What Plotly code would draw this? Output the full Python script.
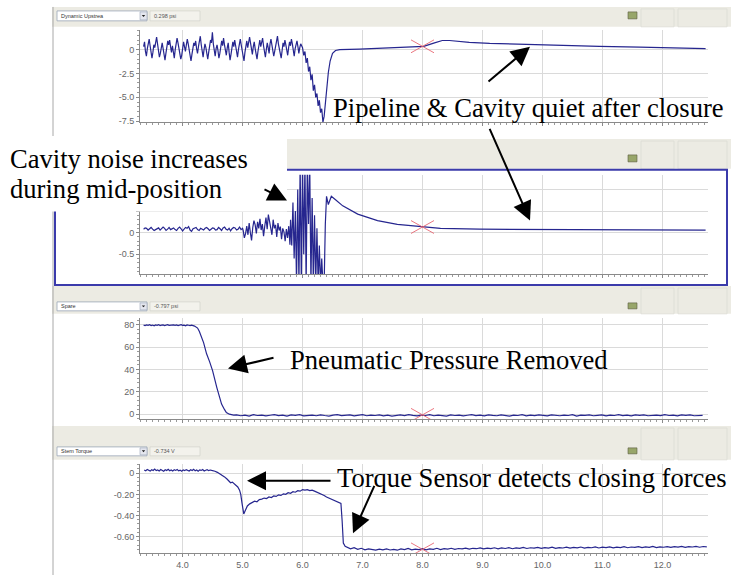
import plotly.graph_objects as go

W, H = 735, 579

# ---------------- data ----------------
x_ticks = [4.0, 5.0, 6.0, 7.0, 8.0, 9.0, 10.0, 11.0, 12.0]
x_tick_labels = ["4.0", "5.0", "6.0", "7.0", "8.0", "9.0", "10.0", "11.0", "12.0"]

# Panel 1 : Dynamic Upstream (psi)
p1_noise_start = 3.35
p1_noise_step = 0.0155
p1_noise = [
    0.3, 0.8, -0.2, -0.7, 0.1, 0.6, 1.1, 0.4, -0.5, -0.9, -0.3, 0.5, 0.2, 0.9, 1.3, 0.6, -0.1, -0.8, -0.4, 0.3,
    0.7, 0.1, -0.6, -1.1, -0.4, 0.2, 0.9, 0.5, 1.0, 0.3, -0.3, 0.4, -0.5, -0.9, 0.0, 0.6, 1.2, 0.7, 0.2, -0.4,
    -1.0, -0.6, 0.1, 0.8, 0.3, -0.2, 0.5, 1.1, 0.6, -0.1, -0.7, -1.2, -0.5, 0.2, 0.7, 0.4, 0.9, 0.1, -0.4, 0.3,
    0.8, 1.4, 0.5, -0.3, -0.8, 0.0, 0.6, 0.2, -0.5, -1.0, -0.3, 0.4, 1.0, 0.7, 1.8, 0.6, -0.2, -0.7, 0.1, 0.5,
    -0.1, -0.9, -0.4, 0.3, 0.9, 0.4, 1.2, 0.5, -0.2, -0.6, 0.2, 0.7, -0.3, -1.1, -0.5, 0.1, 0.8, 0.3, 1.0, 0.4,
    -0.4, -0.8, 0.0, 0.6, 1.1, 0.5, -0.1, -0.7, -1.2, -0.3, 0.4, 0.9, 0.2, 0.6, 1.3, 0.7, -0.2, -0.5, 0.3, 0.8,
    0.1, -0.6, -1.0, -0.2, 0.5, 1.0, 0.3, 0.8, 1.2, 0.4, -0.3, -0.8, 0.0, 0.7, 0.2, -0.4, 0.6, 1.1, 0.5, -0.1,
    -0.7, -0.2, 0.4, 0.9, 1.4, 0.6, 0.0, -0.5, -0.9, -0.1, 0.7, 0.3, 1.0, 0.5, -0.3, -0.6, 0.2, 0.8, 0.4, 1.1,
    0.6, -0.2, -0.7, 0.1, 0.5, 0.9, 0.3, -0.4, 0.2, 0.6]
p1_t = [6.0, 6.02, 6.04, 6.06, 6.08, 6.1, 6.12, 6.14, 6.16, 6.18, 6.2, 6.22, 6.24, 6.26, 6.28, 6.3,
        6.32, 6.34, 6.36, 6.38, 6.4, 6.43, 6.46, 6.5, 6.55, 6.62, 6.95, 7.62, 7.87, 8.02, 8.2, 8.33,
        8.45, 8.78, 9.12, 9.78, 10.28, 10.95, 11.62, 12.28, 12.72]
p1_v = [0.2, -0.6, -0.2, -1.4, -0.9, -2.3, -1.8, -3.2, -2.6, -4.3, -3.7, -5.0, -4.6, -5.9, -5.3, -6.6,
        -6.2, -7.6, -7.0, -5.5, -4.0, -2.4, -1.2, -0.4, -0.1, 0.0, 0.05, 0.2, 0.26, 0.34, 0.7, 0.95,
        0.95, 0.76, 0.65, 0.52, 0.42, 0.34, 0.25, 0.16, 0.1]

# Panel 2 : Cavity (psi)
p2_a_start = 3.35
p2_a_step = 0.025
p2_a = [
    0.08, 0.11, 0.10, 0.06, 0.09, 0.12, 0.08, 0.05, 0.07, 0.10, 0.11, 0.06, 0.09, 0.13, 0.10, 0.05, 0.08, 0.12, 0.07, 0.09,
    0.11, 0.07, 0.05, 0.10, 0.13, 0.09, 0.04, 0.08, 0.12, 0.10, 0.14, 0.06, 0.03, 0.09, 0.11, 0.12, 0.07, 0.05, 0.10, 0.08,
    0.06, 0.10, 0.12, 0.09, 0.05, 0.08, 0.11, 0.10, 0.06, 0.07, 0.12, 0.09, 0.05, 0.11, 0.13, 0.08, 0.06, 0.10, 0.04, 0.09,
    0.12, 0.11, 0.06, 0.08, 0.13, 0.07, 0.10]
p2_b_start = 5.01
p2_b_step = 0.02
p2_b = [0.05, -0.12, -0.02, 0.15, -0.05, 0.22, 0.0, -0.18, 0.12, 0.28, 0.18, -0.02, 0.25, 0.1, 0.32, 0.06, 0.2, -0.08, 0.15, 0.35,
        0.08, 0.42, 0.26, 0.12, -0.05, 0.3, 0.1, 0.18, -0.1, 0.22, 0.05, 0.14, -0.15, 0.1, 0.02, -0.2, 0.08, -0.12, 0.15, -0.28]
p2_t = [5.80, 5.82, 5.84, 5.86, 5.88, 5.90, 5.92, 5.94, 5.96, 5.98, 6.00, 6.02, 6.04, 6.06, 6.08, 6.10,
        6.12, 6.14, 6.16, 6.18, 6.20, 6.22, 6.24, 6.26, 6.28, 6.30, 6.32, 6.34, 6.36, 6.38, 6.40, 6.43,
        6.48, 6.55, 6.67, 6.92, 7.25, 7.58, 7.90, 8.02, 8.30, 8.95, 10.1, 12.72]
p2_v = [0.3, -0.3, 0.7, -0.6, 0.5, -1.2, 1.0, -1.2, 1.6, -1.2, 1.6, -0.5, 1.6, -1.2, 1.6, 0.2,
        1.6, -1.2, 0.8, -1.2, 0.4, -1.2, 0.1, -1.2, -0.3, -1.2, -0.6, -1.2, -1.2, 0.2, 0.84, 0.65,
        0.84, 0.76, 0.62, 0.43, 0.28, 0.19, 0.15, 0.13, 0.10, 0.08, 0.07, 0.06]

# Panel 3 : Spare (psi)
p3_a_start = 3.35
p3_a_step = 0.025
p3_a = [79.6, 79.2, 79.9, 79.4, 80.0, 79.3, 79.7, 79.1, 79.8, 79.5, 80.1, 79.2, 79.6, 79.9, 79.3, 79.7, 80.0,
        79.4, 79.6, 79.2, 79.9, 79.5, 79.8, 79.3, 79.7, 80.0, 79.4, 79.6, 79.1, 79.8, 79.5, 79.2, 79.6]
p3_t = [4.2, 4.25, 4.28, 4.35, 4.4, 4.45, 4.5, 4.57, 4.62, 4.65, 4.7, 4.73, 4.78, 4.85]
p3_v = [78.8, 77.0, 74.0, 64.0, 54.0, 47.0, 39.0, 24.0, 14.0, 9.0, 4.0, 1.5, 0.0, -0.8]
p3_c_start = 4.9
p3_c_step = 0.07
p3_c = [
    -0.6, -1.4, -0.9, -1.7, -0.5, -1.2, -0.8, -1.6, -1.0, -0.4, -1.3, -0.9, -1.8, -0.7, -1.1, -0.5, -1.5, -1.0, -0.8, -1.4,
    -0.6, -1.2, -1.7, -0.9, -0.4, -1.3, -1.0, -0.7, -1.6, -1.1, -0.5, -1.4, -0.8, -1.2, -0.6, -1.5, -0.9, -1.8, -1.0, -0.7,
    -1.3, -0.5, -1.1, -1.6, -0.8, -1.2, -0.4, -1.4, -0.9, -1.0, -1.7, -0.6, -1.2, -0.8, -1.5, -1.0, -0.5, -1.3, -0.9, -1.6,
    -0.7, -1.1, -1.4, -0.6, -1.0, -1.8, -0.8, -1.2, -0.5, -1.5, -0.9, -1.3, -0.7, -1.1, -1.6, -0.6, -1.0, -1.4, -0.8, -1.2,
    -0.5, -1.7, -0.9, -1.1, -0.6, -1.4, -1.0, -0.7, -1.5, -0.8, -1.2, -0.4, -1.3, -0.9, -1.6, -0.7, -1.1, -0.6, -1.4, -1.0,
    -0.8, -1.3, -0.5, -1.2, -0.9, -1.5, -0.7, -1.1, -0.6, -1.4, -0.9, -1.0]

# Panel 4 : Stem Torque (V)
p4_a_start = 3.36
p4_a_step = 0.025
p4_a = [0.03, 0.022, 0.035, 0.025, 0.02, 0.033, 0.026, 0.038, 0.024, 0.03, 0.021, 0.034, 0.027, 0.019, 0.032, 0.025,
        0.036, 0.023, 0.03, 0.02, 0.033, 0.026, 0.035, 0.022, 0.029, 0.018, 0.031, 0.024, 0.034, 0.027, 0.02, 0.032,
        0.025, 0.036, 0.022, 0.03, 0.019, 0.031, 0.026, 0.034, 0.021, 0.028, 0.033, 0.024, 0.03, 0.026]
p4_b_t = [4.5, 4.54, 4.58, 4.62, 4.66, 4.7, 4.74, 4.78, 4.8, 4.83, 4.86, 4.89, 4.92, 4.95, 4.97, 4.99, 5.01, 5.02]
p4_b_v = [0.025, 0.018, 0.008, -0.005, -0.02, -0.035, -0.055, -0.075, -0.09, -0.085, -0.1, -0.11, -0.13, -0.16,
          -0.2, -0.28, -0.35, -0.385]
p4_c_start = 5.04
p4_c_step = 0.04
p4_c = [-0.36, -0.31, -0.29, -0.28, -0.265, -0.27, -0.25, -0.245, -0.235, -0.24, -0.225, -0.23, -0.215, -0.22,
        -0.205, -0.21, -0.195, -0.2, -0.185, -0.19, -0.175, -0.18, -0.165, -0.17, -0.155,
        -0.16, -0.155, -0.165, -0.16, -0.17, -0.18, -0.185, -0.2, -0.21, -0.225, -0.235, -0.25, -0.26, -0.27,
        -0.275, -0.285]
p4_drop_t = [6.66, 6.68, 6.71]
p4_drop_v = [-0.45, -0.66, -0.69]
p4_e_start = 6.74
p4_e_step = 0.06
p4_e = [
    -0.70, -0.715, -0.705, -0.72, -0.71, -0.725, -0.715, -0.72, -0.728, -0.718, -0.724, -0.715, -0.726, -0.72, -0.728,
    -0.716, -0.722, -0.712, -0.725, -0.718, -0.722, -0.714, -0.724, -0.716, -0.72, -0.71, -0.722, -0.714, -0.718, -0.71,
    -0.72, -0.712, -0.716, -0.708, -0.718, -0.71, -0.714, -0.706, -0.716, -0.709, -0.713, -0.705, -0.715, -0.707, -0.712,
    -0.704, -0.714, -0.706, -0.71, -0.702, -0.712, -0.705, -0.709, -0.701, -0.711, -0.704, -0.708, -0.7, -0.71, -0.703,
    -0.707, -0.699, -0.709, -0.702, -0.706, -0.698, -0.708, -0.701, -0.705, -0.697, -0.707, -0.7, -0.704, -0.696, -0.706,
    -0.699, -0.703, -0.695, -0.705, -0.698, -0.702, -0.694, -0.704, -0.697, -0.701, -0.693, -0.703, -0.696, -0.7, -0.694,
    -0.702, -0.695, -0.699, -0.693, -0.701, -0.694, -0.698, -0.692, -0.7, -0.693, -0.697]

cursor_t = 8.0
cursor_vals = [0.34, 0.13, -0.6, -0.72]

channel_names = ["Dynamic Upstrea", "", "Spare", "Stem Torque"]
channel_readings = ["0.298 psi", "", "-0.797 psi", "-0.734 V"]

y_tickvals = [[-7.5, -5.0, -2.5, 0.0], [-0.5, 0.0, 0.5, 1.0], [0, 20, 40, 60, 80], [-0.6, -0.4, -0.2, 0.0]]
y_ticktext = [["-7.5", "-5.0", "-2.5", "0"], ["-0.5", "0", "", ""], ["0", "20", "40", "60", "80"],
              ["-0.60", "-0.40", "-0.20", "0"]]
y_ranges = [[-7.6, 2.07], [-0.96, 1.34], [-4.4, 86.2], [-0.756, 0.089]]
y_minor = [0.5, 0.1, 4, 0.04]
x_range = [3.29, 12.76]


def grid(start, step, vals):
    return [start + i * step for i in range(len(vals))]


series_t = [
    grid(p1_noise_start, p1_noise_step, p1_noise) + p1_t,
    grid(p2_a_start, p2_a_step, p2_a) + grid(p2_b_start, p2_b_step, p2_b) + p2_t,
    grid(p3_a_start, p3_a_step, p3_a) + p3_t + grid(p3_c_start, p3_c_step, p3_c),
    grid(p4_a_start, p4_a_step, p4_a) + p4_b_t + grid(p4_c_start, p4_c_step, p4_c) + p4_drop_t
    + grid(p4_e_start, p4_e_step, p4_e),
]
series_v = [
    p1_noise + p1_v,
    p2_a + p2_b + p2_v,
    p3_a + p3_v + p3_c,
    p4_a + p4_b_v + p4_c + p4_drop_v + p4_e,
]

# ---------------- layout geometry (pixels) ----------------
plot_left, plot_right = 140, 708
panel_rows = [(30, 123), (176, 276), (320, 422), (467, 557)]
headers = [(7, 27), (140, 170), (288, 316), (429, 463)]
dropdown_rows = [(11, 21), (155, 165), (304, 313), (450, 459)]


def PX(px):
    return px / W


def PY(py):
    return 1 - py / H


def rect(x0, y0, x1, y1, fill, line=None, lw=1, layer="below"):
    return dict(type="rect", xref="paper", yref="paper", x0=PX(x0), x1=PX(x1), y0=PY(y1), y1=PY(y0),
                fillcolor=fill, line=dict(color=line if line else fill, width=lw if line else 0), layer=layer)


fig = go.Figure()
LINE_COLOR = "#26268f"
TICK_FONT = dict(family="Liberation Sans", size=9, color="#666666")

layout_axes = {}
shapes = []
annotations = []
for i in range(4):
    n = "" if i == 0 else str(i + 1)
    top, bot = panel_rows[i]
    fig.add_trace(go.Scatter(x=series_t[i], y=series_v[i], mode="lines",
                             line=dict(color=LINE_COLOR, width=1.2), xaxis="x" + n, yaxis="y" + n,
                             showlegend=False, hoverinfo="skip"))
    # red cursor cross
    dx = 11.5 / ((plot_right - plot_left) / (x_range[1] - x_range[0]))
    dy = 6.5 / ((bot - top) / (y_ranges[i][1] - y_ranges[i][0]))
    c, v = cursor_t, cursor_vals[i]
    fig.add_trace(go.Scatter(x=[c - dx, c + dx, None, c - dx, c + dx], y=[v - dy, v + dy, None, v + dy, v - dy],
                             mode="lines", line=dict(color="#e8606c", width=1), xaxis="x" + n, yaxis="y" + n,
                             showlegend=False, hoverinfo="skip", opacity=0.85))
    layout_axes["xaxis" + n] = dict(
        domain=[PX(plot_left), PX(plot_right)], range=x_range, anchor="y" + n,
        tickvals=x_ticks, ticktext=x_tick_labels, showticklabels=(i == 3), tickfont=TICK_FONT,
        showgrid=True, gridcolor="#dadada", gridwidth=1, zeroline=False,
        showline=True, linecolor="#8a8a8a", linewidth=1, ticks="outside", ticklen=3, tickcolor="#8a8a8a",
        minor=dict(dtick=0.1, tick0=0, ticks="outside", ticklen=2, tickcolor="#9a9a9a", showgrid=False),
        fixedrange=True)
    layout_axes["yaxis" + n] = dict(
        domain=[PY(bot), PY(top)], range=y_ranges[i], anchor="x" + n,
        tickvals=y_tickvals[i], ticktext=y_ticktext[i], tickfont=TICK_FONT,
        showgrid=True, gridcolor="#dadada", gridwidth=1, zeroline=False,
        showline=True, linecolor="#8a8a8a", linewidth=1, ticks="outside", ticklen=3, tickcolor="#8a8a8a",
        minor=dict(dtick=y_minor[i], tick0=0, ticks="outside", ticklen=2, tickcolor="#9a9a9a", showgrid=False),
        fixedrange=True)

    # window header band
    h0, h1 = headers[i]
    shapes.append(rect(52, h0, 731, h1, "#ecebe3"))
    d0, d1 = dropdown_rows[i]
    shapes.append(rect(57, d0, 147, d1, "#ffffff", "#9aa6b8", 0.8))
    shapes.append(rect(140, d0 + 1, 147, d1 - 1, "#e4e6ee", "#9aa6b8", 0.6))
    shapes.append(dict(type="path", xref="paper", yref="paper",
                       path="M %f,%f L %f,%f L %f,%f Z" % (PX(141.8), PY((d0 + d1) / 2 - 1), PX(145.2),
                                                             PY((d0 + d1) / 2 - 1), PX(143.5), PY((d0 + d1) / 2 + 1)),
                       fillcolor="#222222", line=dict(width=0), layer="below"))
    shapes.append(rect(150, d0, 200, d1, "#f3f2ec", "#cfcfc8", 0.6))
    # right-side icon and boxes
    shapes.append(rect(628, d0 + 1, 637, d1 - 2, "#98a66a", "#5b5b40", 0.6))
    shapes.append(rect(641, h0 + 2, 674, h1, "rgba(0,0,0,0)", "#dcdcd4", 0.8))
    shapes.append(rect(678, h0 + 2, 727, h1, "rgba(0,0,0,0)", "#dcdcd4", 0.8))
    if channel_names[i]:
        annotations.append(dict(xref="paper", yref="paper", x=PX(59), y=PY((d0 + d1) / 2), text=channel_names[i],
                                showarrow=False, xanchor="left", yanchor="middle",
                                font=dict(family="Liberation Sans", size=5.5, color="#333333")))
        annotations.append(dict(xref="paper", yref="paper", x=PX(152), y=PY((d0 + d1) / 2), text=channel_readings[i],
                                showarrow=False, xanchor="left", yanchor="middle",
                                font=dict(family="Liberation Sans", size=5.5, color="#555555")))

# window left edge
shapes.append(dict(type="line", xref="paper", yref="paper", x0=PX(53), x1=PX(53), y0=PY(579), y1=PY(7),
                   line=dict(color="#a8a8a8", width=1), layer="below"))
# selected panel border
shapes.append(rect(55, 171, 727, 287, "rgba(0,0,0,0)", "#3b3bab", 2, layer="above"))
# white box behind the cavity-noise text
shapes.append(rect(0, 137, 287, 213, "#ffffff", layer="above"))

SERIF = dict(family="Liberation Serif", size=26.6, color="black")
texts = [
    ("Pipeline & Cavity quiet after closure", 332, 109),
    ("Cavity noise increases", 9, 160),
    ("during mid-position", 9, 190),
    ("Pneumatic Pressure Removed", 289, 362.5),
    ("Torque Sensor detects closing forces", 336, 481),
]
for t, x, y in texts:
    annotations.append(dict(xref="paper", yref="paper", x=PX(x), y=PY(y), text=t, showarrow=False,
                            xanchor="left", yanchor="middle", font=SERIF, borderpad=0))

arrows = [  # (tip_x, tip_y, tail_x, tail_y) in pixels
    (530, 47, 487, 83),
    (530, 222, 489, 129),
    (287, 202, 263, 190),
    (228, 371, 275, 360),
    (247, 484, 332, 484),
    (353, 537, 375, 488),
]
for tx, ty, sx, sy in arrows:
    annotations.append(dict(xref="paper", yref="paper", x=PX(tx), y=PY(ty), ax=sx - tx, ay=sy - ty,
                            axref="pixel", ayref="pixel", text="", showarrow=True, arrowhead=2,
                            arrowsize=1.9, arrowwidth=2, arrowcolor="black", standoff=0, startstandoff=0))

fig.update_layout(width=W, height=H, margin=dict(l=0, r=0, t=0, b=0), paper_bgcolor="white",
                  plot_bgcolor="rgba(0,0,0,0)", shapes=shapes, annotations=annotations, showlegend=False,
                  **layout_axes)
fig.write_html("out.html", config={"displayModeBar": False},
               post_script="document.body.style.margin='0px';document.body.style.overflow='hidden';")
